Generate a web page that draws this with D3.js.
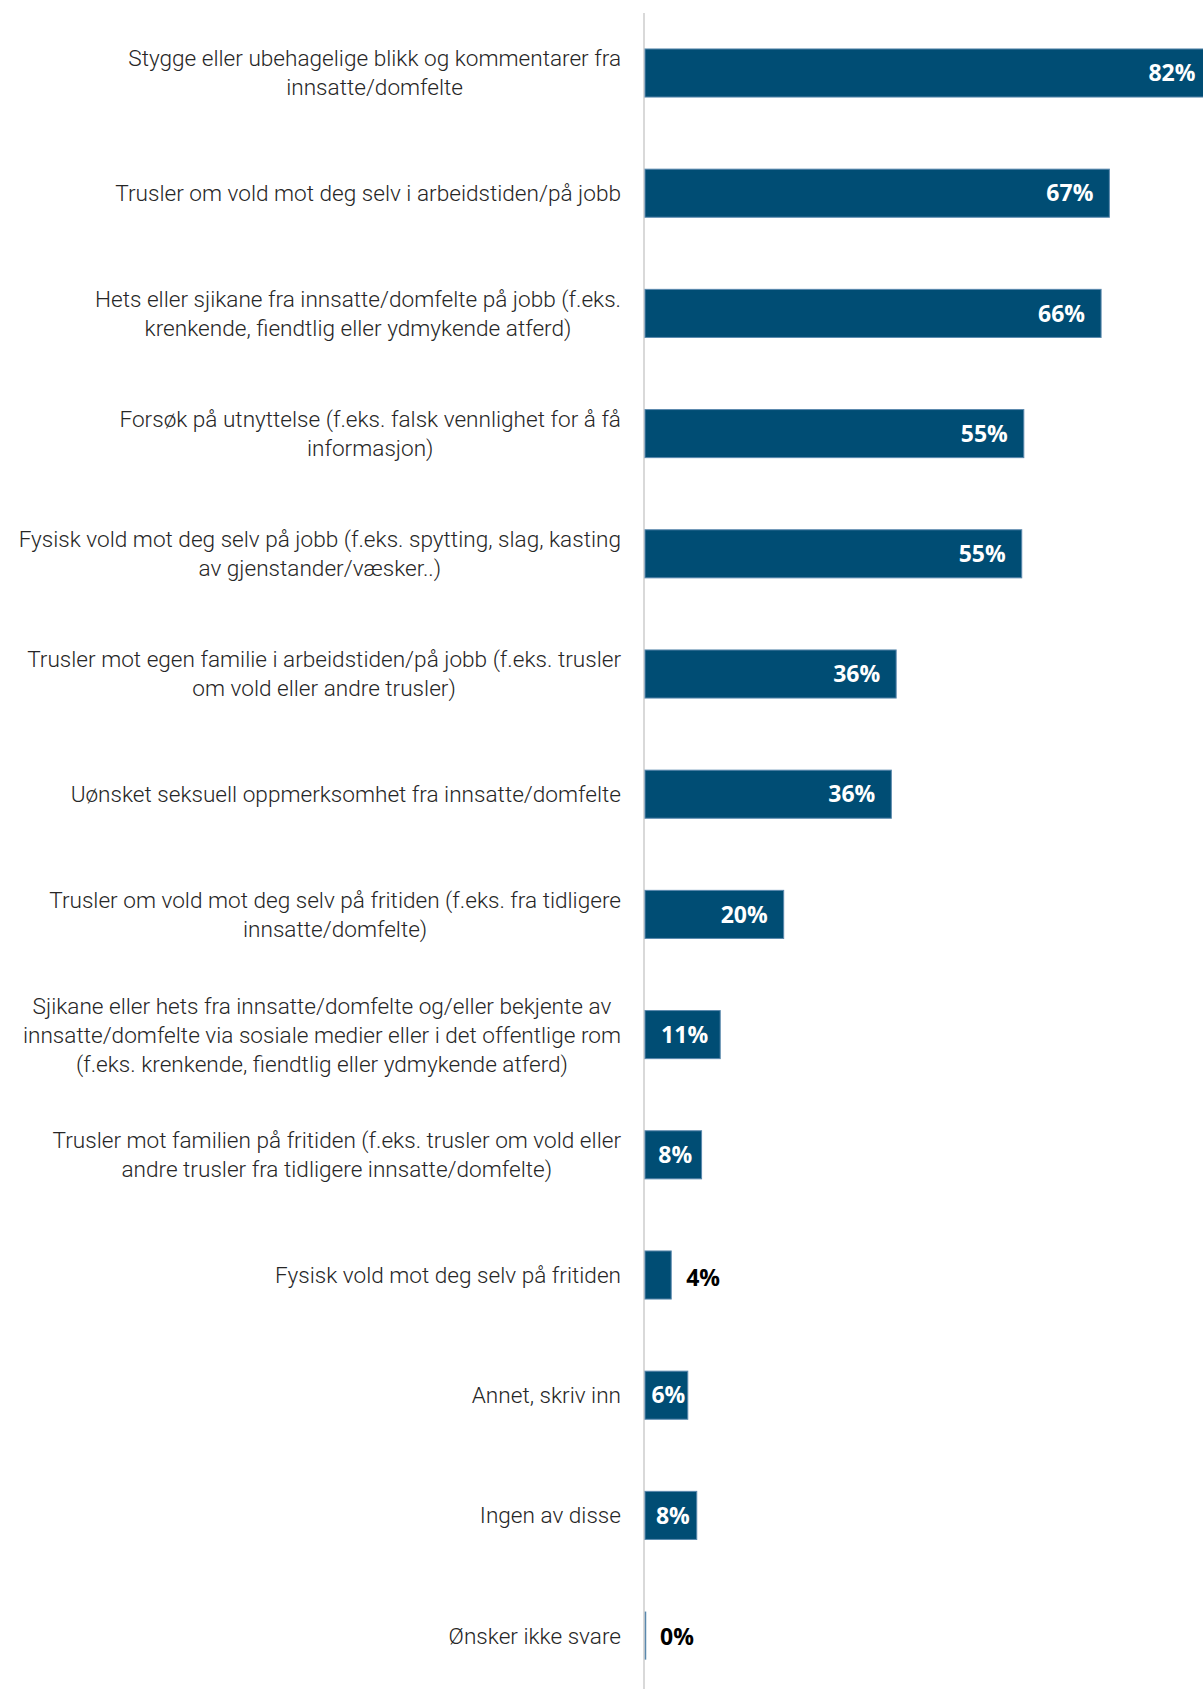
<!DOCTYPE html>
<html>
<head>
<meta charset="utf-8">
<script src="https://cdn.jsdelivr.net/npm/d3@7.9.0/dist/d3.min.js"></script>
<style>
  html, body { margin: 0; padding: 0; background: #fff; }
  svg { display: block; }
  .cat { font-family: Roboto, "Open Sans", sans-serif; font-weight: 300; font-size: 22.6px; fill: #262626; }
  .val { font-family: "Open Sans", "Noto Sans", sans-serif; font-weight: 700; font-size: 23px; }
</style>
</head>
<body>
<svg id="chart"></svg>
<script>
// categories (line breaks as in the original labels)
const categories = [
  "Stygge eller ubehagelige blikk og kommentarer fra\ninnsatte/domfelte",
  "Trusler om vold mot deg selv i arbeidstiden/på jobb",
  "Hets eller sjikane fra innsatte/domfelte på jobb (f.eks.\nkrenkende, fiendtlig eller ydmykende atferd)",
  "Forsøk på utnyttelse (f.eks. falsk vennlighet for å få\ninformasjon)",
  "Fysisk vold mot deg selv på jobb (f.eks. spytting, slag, kasting\nav gjenstander/væsker..)",
  "Trusler mot egen familie i arbeidstiden/på jobb (f.eks. trusler\nom vold eller andre trusler)",
  "Uønsket seksuell oppmerksomhet fra innsatte/domfelte",
  "Trusler om vold mot deg selv på fritiden (f.eks. fra tidligere\ninnsatte/domfelte)",
  "Sjikane eller hets fra innsatte/domfelte og/eller bekjente av\ninnsatte/domfelte via sosiale medier eller i det offentlige rom\n(f.eks. krenkende, fiendtlig eller ydmykende atferd)",
  "Trusler mot familien på fritiden (f.eks. trusler om vold eller\nandre trusler fra tidligere innsatte/domfelte)",
  "Fysisk vold mot deg selv på fritiden",
  "Annet, skriv inn",
  "Ingen av disse",
  "Ønsker ikke svare"
];

// share of respondents, percent
const values = [82.1, 67.3, 66.1, 54.9, 54.6, 36.4, 35.7, 20.1, 10.9, 8.2, 3.8, 6.2, 7.5, 0];

const W = 1203, H = 1689;
const x0 = 645, labelRight = 621;
const BAR = "#004d74";
const EDGE = "#5a88ad";

const svg = d3.select("#chart").attr("width", W).attr("height", H);

const x = d3.scaleLinear().domain([0, 100]).range([x0, x0 + 690]);
const y = d3.scaleBand()
  .domain(d3.range(categories.length))
  .range([12.9, 12.9 + 120.2 * categories.length])
  .paddingInner(0.6)
  .paddingOuter(0.3);

const data = categories.map((c, i) => ({ i, lines: c.split("\n"), v: values[i] }));

// axis line
svg.append("line")
  .attr("x1", x0 - 1).attr("x2", x0 - 1)
  .attr("y1", y.range()[0]).attr("y2", H)
  .attr("stroke", "#d9d9d9")
  .attr("stroke-width", 2);

// bars
svg.append("g").selectAll("rect")
  .data(data.filter(d => d.v > 0))
  .join("rect")
  .attr("x", x(0))
  .attr("y", d => y(d.i))
  .attr("width", d => x(d.v) - x(0))
  .attr("height", y.bandwidth())
  .attr("fill", BAR)
  .attr("stroke", EDGE)
  .attr("stroke-width", 1);

// zero-length bars still show their outline
svg.append("g").selectAll("line")
  .data(data.filter(d => d.v === 0))
  .join("line")
  .attr("x1", x(0) + 0.5).attr("x2", x(0) + 0.5)
  .attr("y1", d => y(d.i)).attr("y2", d => y(d.i) + y.bandwidth())
  .attr("stroke", EDGE)
  .attr("stroke-width", 1.5);

// category labels: block right-aligned, lines centred within block
const lineH = 29;
const catG = svg.append("g");
data.forEach(d => {
  const cy = y(d.i) + y.bandwidth() / 2;
  const t = catG.append("text").attr("class", "cat").attr("text-anchor", "middle");
  const spans = d.lines.map((ln, k) =>
    t.append("tspan")
      .attr("y", cy + (k - (d.lines.length - 1) / 2) * lineH)
      .attr("dy", "0.35em")
      .text(ln));
  const maxW = d3.max(spans, s => s.node().getComputedTextLength());
  spans.forEach(s => s.attr("x", labelRight - maxW / 2));
});

// value labels
const valG = svg.append("g");
data.forEach(d => {
  const cy = y(d.i) + y.bandwidth() / 2;
  const end = x(d.v);
  const w = end - x(0);
  const txt = Math.round(d.v) + "%";
  const t = valG.append("text").attr("class", "val")
    .attr("y", cy).attr("dy", "0.36em").text(txt);
  const tw = t.node().getComputedTextLength();
  if (w - tw > 32) {
    t.attr("x", Math.min(end, W + 9) - 16).attr("text-anchor", "end").attr("fill", "#fff");
  } else if (w - tw > 0) {
    t.attr("x", x(0) + w / 2 + 2).attr("text-anchor", "middle").attr("fill", "#fff");
  } else {
    t.attr("x", end + 15).attr("y", cy + (d.v > 0 ? 3 : 1)).attr("text-anchor", "start").attr("fill", "#000");
  }
});
</script>
</body>
</html>
